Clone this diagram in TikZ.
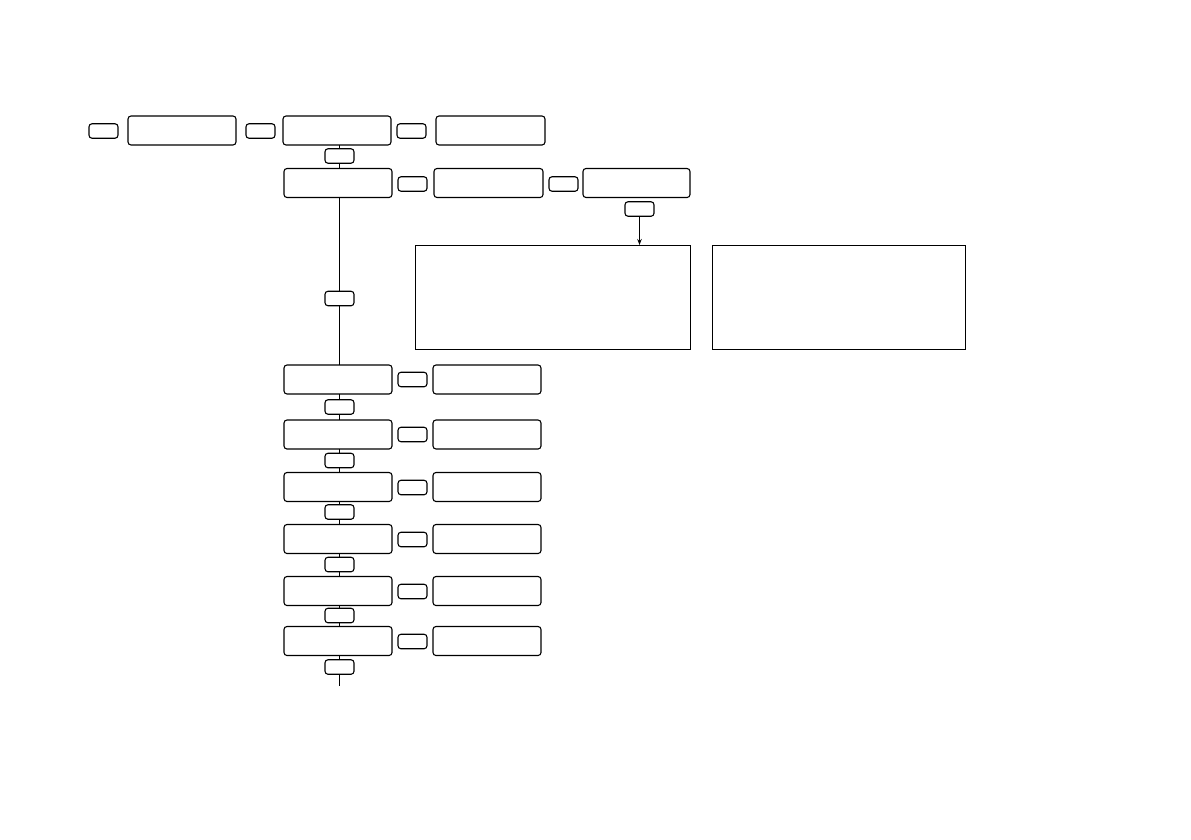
\documentclass[tikz,border=0pt]{standalone}
\usetikzlibrary{arrows.meta}
\begin{document}
\begin{tikzpicture}[x=1pt,y=-1pt,
  bigbox/.style={draw, rounded corners=3pt, minimum width=108pt, minimum height=29pt, inner sep=0pt, outer sep=0pt, line width=1.1pt},
  smbox/.style={draw, rounded corners=3pt, minimum width=29pt, minimum height=14.5pt, inner sep=0pt, outer sep=0pt, line width=1.1pt},
  panel/.style={draw, inner sep=0pt, outer sep=0pt, line width=0.9pt},
  link/.style={line width=1.1pt}]
\useasboundingbox (0,0) rectangle (1191,839);
% row 1
\node[smbox] (a) at (103.5,131) {};
\node[bigbox] (b) at (182,130.5) {};
\node[smbox] (c) at (260.5,131) {};
\node[bigbox] (d) at (337,130.5) {};
\node[smbox] (e) at (411.5,131) {};
\node[bigbox, minimum width=109pt] (f) at (490.5,130.5) {};
% chain
\node[smbox] (s1) at (339.5,156) {};
\node[bigbox] (g) at (338,183) {};
\node[smbox] (g2) at (412.5,184) {};
\node[bigbox, minimum width=109pt] (h) at (488.5,183) {};
\node[smbox] (h2) at (563.5,184) {};
\node[bigbox, minimum width=107pt] (i) at (636.5,183) {};
\node[smbox] (si) at (639.5,209) {};
\node[panel, minimum width=275pt, minimum height=104pt] (j) at (552.5,297) {};
\node[panel, minimum width=253pt, minimum height=104pt] (k) at (838.5,297) {};
\node[smbox] (s2) at (339.5,298.5) {};
% rows 3-8
\node[bigbox] (r3) at (338,379.5) {};
\node[smbox] (r3s) at (412.5,379.5) {};
\node[bigbox] (r3r) at (487,379.5) {};
\node[smbox] (s3) at (339.5,407) {};
\node[bigbox] (r4) at (338,434.5) {};
\node[smbox] (r4s) at (412.5,434.5) {};
\node[bigbox] (r4r) at (487,434.5) {};
\node[smbox] (s4) at (339.5,460.5) {};
\node[bigbox] (r5) at (338,487) {};
\node[smbox] (r5s) at (412.5,487.5) {};
\node[bigbox] (r5r) at (487,487) {};
\node[smbox] (s5) at (339.5,512) {};
\node[bigbox] (r6) at (338,539) {};
\node[smbox] (r6s) at (412.5,539.5) {};
\node[bigbox] (r6r) at (487,539) {};
\node[smbox] (s6) at (339.5,564.5) {};
\node[bigbox] (r7) at (338,591) {};
\node[smbox] (r7s) at (412.5,591.5) {};
\node[bigbox] (r7r) at (487,591) {};
\node[smbox] (s7) at (339.5,615.5) {};
\node[bigbox] (r8) at (338,641) {};
\node[smbox] (r8s) at (412.5,641.5) {};
\node[bigbox] (r8r) at (487,641) {};
\node[smbox] (s8) at (339.5,667) {};
\coordinate (end) at (339.5,686);
% connectors
\draw[link] (s1 |- d.south) -- (s1) -- (s1 |- g.north);
\draw[link] (s2 |- g.south) -- (s2) -- (s2 |- r3.north);
\draw[link] (s3 |- r3.south) -- (s3) -- (s3 |- r4.north);
\draw[link] (s4 |- r4.south) -- (s4) -- (s4 |- r5.north);
\draw[link] (s5 |- r5.south) -- (s5) -- (s5 |- r6.north);
\draw[link] (s6 |- r6.south) -- (s6) -- (s6 |- r7.north);
\draw[link] (s7 |- r7.south) -- (s7) -- (s7 |- r8.north);
\draw[link] (s8 |- r8.south) -- (s8) -- (end);
\draw[link, -{Stealth[length=6pt,width=4.5pt]}] (si) -- (si |- j.north);
\end{tikzpicture}
\end{document}
